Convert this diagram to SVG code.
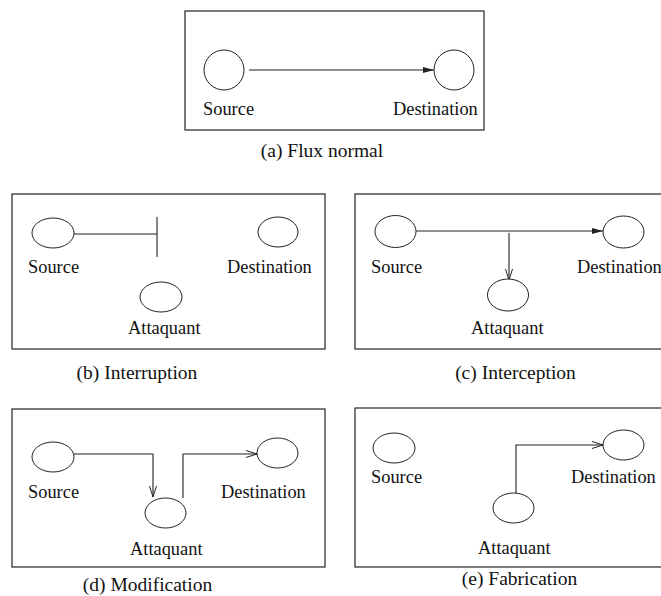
<svg xmlns="http://www.w3.org/2000/svg" width="661" height="596" viewBox="0 0 661 596">
<style>
.frame{fill:none;stroke:#222;stroke-width:1.2}
.node{fill:#fff;stroke:#222;stroke-width:1}
.edge{fill:none;stroke:#222;stroke-width:1.1}
text{font-family:"Liberation Serif","Times New Roman",serif;font-size:18.4px;fill:#111}
.cap{text-anchor:middle;font-size:19.5px}
</style>
<defs>
<marker id="fill" markerWidth="12" markerHeight="8" refX="11" refY="4" orient="auto" markerUnits="userSpaceOnUse">
<path d="M0,1 L11,4 L0,7 Z" fill="#222"/>
</marker>
<marker id="open" markerWidth="12" markerHeight="10" refX="11" refY="5" orient="auto" markerUnits="userSpaceOnUse">
<path d="M0,1.5 L11,5 L0,8.5" fill="none" stroke="#222" stroke-width="1"/>
</marker>
</defs>

<g id="frames">
<rect class="frame" x="185" y="11" width="299" height="119"/>
<rect class="frame" x="12" y="194" width="313" height="155"/>
<rect class="frame" x="355" y="194" width="310" height="155"/>
<rect class="frame" x="12" y="409" width="313" height="158"/>
<rect class="frame" x="355" y="408" width="310" height="159"/>
</g>

<g id="connectors">
<line class="edge" x1="249" y1="70" x2="434" y2="70" marker-end="url(#fill)"/>
<line class="edge" x1="74" y1="234" x2="157" y2="234"/>
<line class="edge" x1="157" y1="217" x2="157" y2="257"/>
<line class="edge" x1="416" y1="231" x2="603" y2="231" marker-end="url(#fill)"/>
<line class="edge" x1="509" y1="233" x2="509" y2="280" marker-end="url(#open)"/>
<polyline class="edge" points="74,454 153,454 153,497" marker-end="url(#open)"/>
<polyline class="edge" points="183,498 183,454 257,454" marker-end="url(#open)"/>
<polyline class="edge" points="516,494 516,445 603,445" marker-end="url(#open)"/>
</g>

<g id="a-source"><circle class="node" cx="224" cy="70" r="20"/><text x="203" y="115">Source</text></g>
<g id="a-destination"><circle class="node" cx="454" cy="70" r="20"/><text x="393" y="115">Destination</text></g>
<g id="a-caption"><text class="cap" x="322" y="157">(a) Flux normal</text></g>

<g id="b-source"><ellipse class="node" cx="53" cy="233" rx="21" ry="15"/><text x="28" y="273">Source</text></g>
<g id="b-destination"><ellipse class="node" cx="278" cy="232" rx="20" ry="15"/><text x="227" y="273">Destination</text></g>
<g id="b-attaquant"><ellipse class="node" cx="161" cy="297" rx="21" ry="15"/><text x="128" y="334">Attaquant</text></g>
<g id="b-caption"><text class="cap" x="137" y="379">(b) Interruption</text></g>

<g id="c-source"><ellipse class="node" cx="395.5" cy="231.5" rx="20.5" ry="16"/><text x="371" y="273">Source</text></g>
<g id="c-destination"><ellipse class="node" cx="623.5" cy="232" rx="20.5" ry="16"/><text x="577" y="273">Destination</text></g>
<g id="c-attaquant"><ellipse class="node" cx="508" cy="295" rx="20.5" ry="16"/><text x="471" y="334">Attaquant</text></g>
<g id="c-caption"><text class="cap" x="515.5" y="379">(c) Interception</text></g>

<g id="d-source"><ellipse class="node" cx="53" cy="457" rx="21" ry="15"/><text x="28" y="498">Source</text></g>
<g id="d-destination"><ellipse class="node" cx="277.5" cy="453" rx="20.5" ry="15"/><text x="221" y="498">Destination</text></g>
<g id="d-attaquant"><ellipse class="node" cx="165.5" cy="513" rx="20.5" ry="15"/><text x="130" y="555">Attaquant</text></g>
<g id="d-caption"><text class="cap" x="147.5" y="591">(d) Modification</text></g>

<g id="e-source"><ellipse class="node" cx="394" cy="448" rx="21" ry="15"/><text x="371" y="483">Source</text></g>
<g id="e-destination"><ellipse class="node" cx="623.5" cy="445" rx="20.5" ry="15"/><text x="571" y="483">Destination</text></g>
<g id="e-attaquant"><ellipse class="node" cx="513.5" cy="508" rx="20.5" ry="15"/><text x="478" y="554">Attaquant</text></g>
<g id="e-caption"><text class="cap" x="519.5" y="585">(e) Fabrication</text></g>
</svg>
